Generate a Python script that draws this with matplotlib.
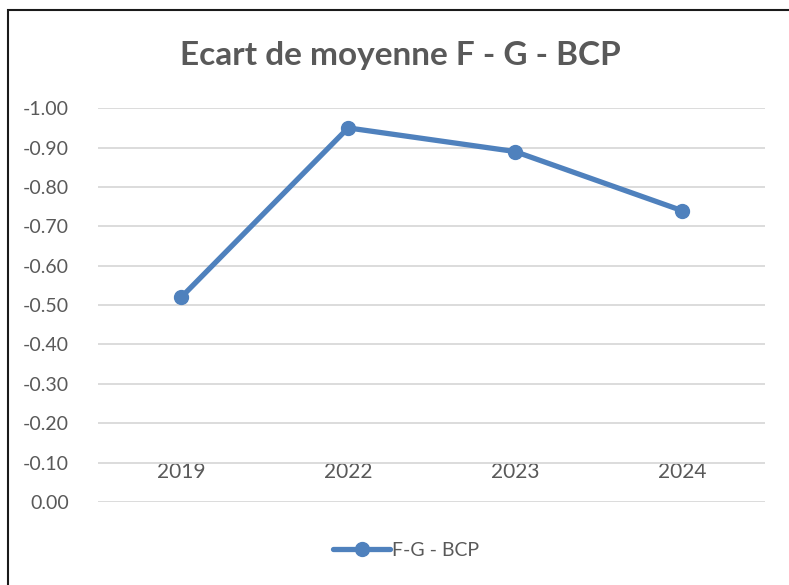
import matplotlib.pyplot as plt
from matplotlib.patches import Rectangle

# data
years = ["2019", "2022", "2023", "2024"]
ecart = [-0.52, -0.95, -0.89, -0.74]
y_ticks = [0.0, -0.1, -0.2, -0.3, -0.4, -0.5, -0.6, -0.7, -0.8, -0.9, -1.0]

blue = "#4F81BD"
grey = "#595959"

plt.rcParams['font.family'] = ['Lato', 'DejaVu Sans']

fig = plt.figure(figsize=(7.89, 5.85), dpi=100)
ax = fig.add_axes([0.124, 0.142, 0.846, 0.673])

x = list(range(len(years)))
ax.plot(x, ecart, color=blue, lw=3.8, marker='o', ms=10, label="F-G - BCP",
        solid_capstyle='round', zorder=3)

ax.set_xlim(-0.5, len(years) - 0.5)
ax.set_ylim(0, -1.0)
ax.set_yticks(y_ticks)
ax.set_yticklabels([f"{abs(v):.2f}" if v == 0 else f"{v:.2f}" for v in y_ticks])
ax.set_xticks(x)
ax.set_xticklabels(years)

ax.grid(axis='y', color='#D9D9D9', lw=1.3)
ax.set_axisbelow(True)
for s in ax.spines.values():
    s.set_visible(False)
ax.tick_params(axis='y', length=0, pad=21, labelsize=14, labelcolor=grey)
ax.tick_params(axis='x', length=0, pad=-29, labelsize=15, labelcolor=grey)

fig.text(0.507, 0.905, "Ecart de moyenne F - G - BCP", ha='center', va='center',
         fontsize=24, fontweight='bold', color=grey)

leg = ax.legend(loc='center', bbox_to_anchor=(0.462, -0.124), frameon=False,
                fontsize=14, handlelength=2.9, handletextpad=0.1)
for t in leg.get_texts():
    t.set_color(grey)

# chart frame
fig.patches.append(Rectangle((8 / 789, -0.05), 1.1, 1 - 10 / 585 + 0.05,
                             transform=fig.transFigure, fill=False,
                             edgecolor='#1a1a1a', lw=1.5))

fig.savefig("out.png", dpi=100)
